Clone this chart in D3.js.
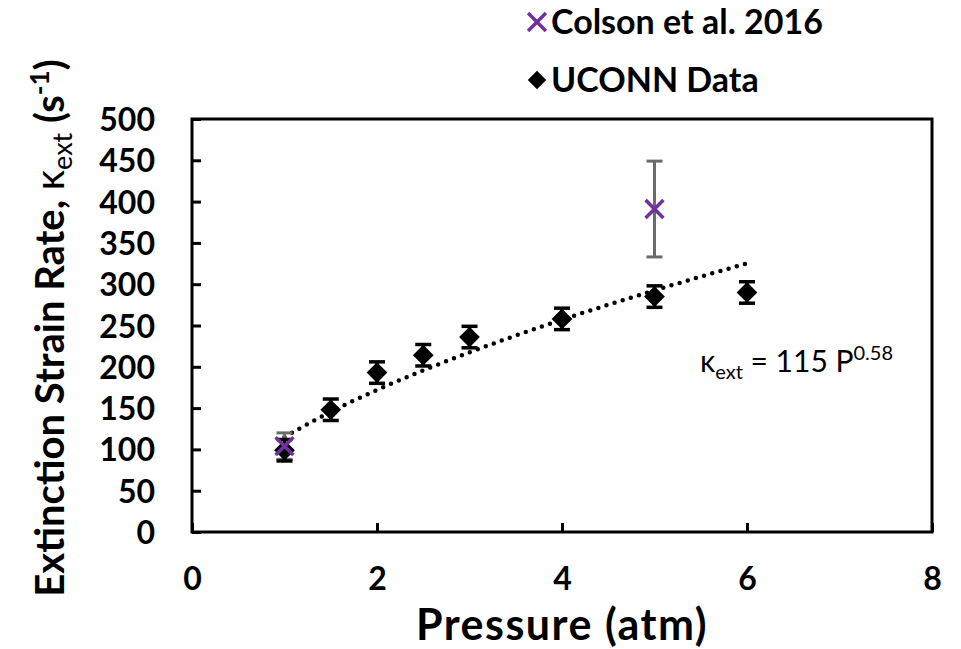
<!DOCTYPE html>
<html>
<head>
<meta charset="utf-8">
<script src="https://cdn.jsdelivr.net/npm/d3@7"></script>
<style>
  body { margin: 0; background: #fff; }
  svg text { font-family: Lato, "Open Sans", sans-serif; }
</style>
</head>
<body>
<div id="chart"></div>
<script>
// data
var uconnP = [1, 1.5, 2, 2.5, 3, 4, 5, 6];
var uconnK = [99, 148, 193, 214, 236, 258, 285, 290];
var uconnErr = [13, 13, 13, 13, 13, 13, 13, 13];

var colsonP = [1, 5];
var colsonK = [104, 391];
var colsonErr = [16, 58];

var fitP = [1, 1.5, 2, 2.5, 3, 3.5, 4, 4.5, 5, 5.5, 6];
var fitA = 115, fitB = 0.58;

var xTicks = [0, 2, 4, 6, 8];
var yTicks = [0, 50, 100, 150, 200, 250, 300, 350, 400, 450, 500];

var W = 961, H = 649;
var svg = d3.select('#chart').append('svg')
            .attr('width', W).attr('height', H);

var x = d3.scaleLinear().domain([0, 8]).range([192, 932]);
var y = d3.scaleLinear().domain([0, 500]).range([532, 119]);

// frame
svg.append('rect')
   .attr('x', 192).attr('y', 119)
   .attr('width', 740).attr('height', 413)
   .attr('fill', 'none').attr('stroke', '#000').attr('stroke-width', 3);

// axes, ticks pointing inside
var xAxis = d3.axisBottom(x).tickValues(xTicks).tickSize(-9).tickPadding(35);
var yAxis = d3.axisLeft(y).tickValues(yTicks).tickSize(-9).tickPadding(37);

var gx = svg.append('g').attr('transform', 'translate(0,532)').call(xAxis);
var gy = svg.append('g').attr('transform', 'translate(192,0)').call(yAxis);
[gx, gy].forEach(function(g) {
  g.select('.domain').remove();
  g.selectAll('.tick line').attr('stroke', '#000').attr('stroke-width', 3);
  g.selectAll('.tick text')
   .attr('fill', '#000')
   .style('font-size', '32px').style('font-weight', 'bold');
});
gy.selectAll('.tick text').attr('dy', '0.36em');

// fit line, dotted
var fitLine = d3.line()
  .x(function(p) { return x(p); })
  .y(function(p) { return y(fitA * Math.pow(p, fitB)); })
  .curve(d3.curveMonotoneX);
svg.append('path')
   .datum(fitP)
   .attr('d', fitLine)
   .attr('fill', 'none')
   .attr('stroke', '#000')
   .attr('stroke-width', 4.5)
   .attr('stroke-linecap', 'round')
   .attr('stroke-dasharray', '0 8.5');

// error bars
var drawErr = function(ps, ks, es, color, width) {
  var g = svg.append('g');
  ps.forEach(function(p, i) {
    var cx = x(p), y1 = y(ks[i] + es[i]), y2 = y(ks[i] - es[i]);
    g.append('line').attr('x1', cx).attr('x2', cx).attr('y1', y1).attr('y2', y2)
     .attr('stroke', color).attr('stroke-width', width);
    [y1, y2].forEach(function(yy) {
      g.append('line').attr('x1', cx - 8).attr('x2', cx + 8).attr('y1', yy).attr('y2', yy)
       .attr('stroke', color).attr('stroke-width', width);
    });
  });
};

drawErr(colsonP, colsonK, colsonErr, '#6b6b6b', 3);
drawErr(uconnP, uconnK, uconnErr, '#000', 3.5);

var diamond = d3.symbol().type(d3.symbolSquare).size(215);

svg.append('g').selectAll('path')
   .data(uconnP)
   .join('path')
   .attr('d', diamond)
   .attr('transform', function(p, i) {
     return 'translate(' + x(p) + ',' + y(uconnK[i]) + ') rotate(45)';
   })
   .attr('fill', '#000');

var cross = d3.symbol().type(d3.symbolX).size(210);
svg.append('g').selectAll('path')
   .data(colsonP)
   .join('path')
   .attr('d', cross)
   .attr('transform', function(p, i) {
     return 'translate(' + x(p) + ',' + y(colsonK[i]) + ')';
   })
   .attr('fill', 'none')
   .attr('stroke', '#7030a0')
   .attr('stroke-width', 3.5);

// legend
svg.append('path').attr('d', cross)
   .attr('transform', 'translate(537,22)')
   .attr('fill', 'none').attr('stroke', '#7030a0').attr('stroke-width', 3.5);
svg.append('text').attr('x', 551).attr('y', 34)
   .style('font-size', '34px').style('font-weight', 'bold')
   .text('Colson et al. 2016');
svg.append('path').attr('d', d3.symbol().type(d3.symbolSquare).size(170))
   .attr('transform', 'translate(537,80) rotate(45)').attr('fill', '#000');
svg.append('text').attr('x', 551).attr('y', 92)
   .style('font-size', '34px').style('font-weight', 'bold')
   .text('UCONN Data');

// axis titles
svg.append('text').attr('x', 562).attr('y', 640)
   .attr('text-anchor', 'middle')
   .style('font-size', '43px').style('font-weight', 'bold')
   .style('letter-spacing', '1.5px')
   .text('Pressure (atm)');

var yt = svg.append('text')
   .attr('transform', 'translate(64,328) rotate(-90)')
   .attr('text-anchor', 'middle')
   .style('font-size', '40px').style('font-weight', 'bold');
yt.append('tspan').text('Extinction Strain Rate, ');
yt.append('tspan').style('font-weight', 'normal').text('\u03ba');
yt.append('tspan').attr('dy', 8).style('font-size', '27px').style('font-weight', 'normal').text('ext');
yt.append('tspan').attr('dy', -8).text(' (s');
yt.append('tspan').attr('dy', -15).style('font-size', '26px').text('-1');
yt.append('tspan').attr('dy', 15).text(')');

// fit annotation
var ann = svg.append('text').attr('x', 700).attr('y', 372)
   .style('font-size', '30px');
ann.append('tspan').text('\u03ba');
ann.append('tspan').attr('dy', 7).style('font-size', '20px').text('ext');
ann.append('tspan').attr('dy', -7).text(' = 115 P');
ann.append('tspan').attr('dy', -12).style('font-size', '20px').text('0.58');
</script>
</body>
</html>
